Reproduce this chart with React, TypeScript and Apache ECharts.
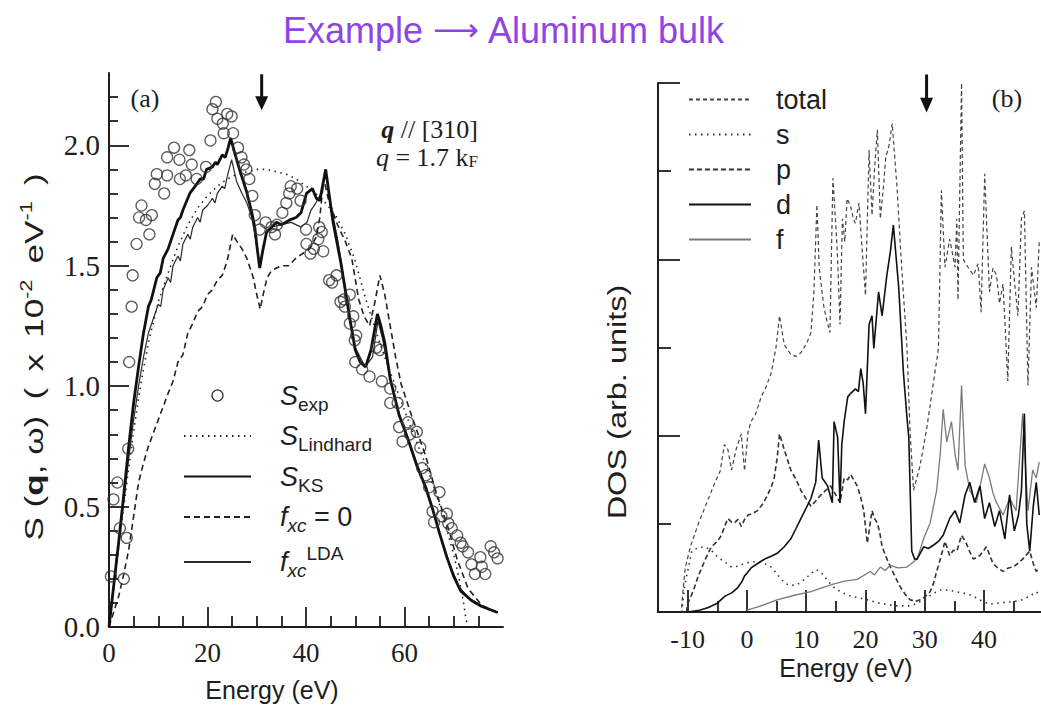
import React, { useEffect, useRef } from 'react';
import * as echarts from 'echarts';

const SANS = '"Liberation Sans", Arial, sans-serif';
const SERIF = '"Liberation Serif", "Times New Roman", serif';
const INK = '#1e1e1e';
const TITLE_COLOR = '#8f45e6';

// ---------- panel (a): S(q, ω) of Al, q // [310], q = 1.7 kF ----------
const ticksXA = [0, 20, 40, 60];
const minorXA = [5, 10, 15, 25, 30, 35, 45, 50, 55, 65, 70, 75];
const ticksYA = [0, 0.5, 1, 1.5, 2];
const minorYA = [0.1, 0.2, 0.3, 0.4, 0.6, 0.7, 0.8, 0.9, 1.1, 1.2, 1.3, 1.4, 1.6, 1.7, 1.8, 1.9, 2.1, 2.2];

const sExp: [number, number][] = [
  [0.4, 0.21], [0.9, 0.53], [1.7, 0.6], [2.2, 0.41], [3.0, 0.2], [3.6, 0.37], [3.9, 0.74], [4.1, 1.1],
  [4.6, 1.33], [4.8, 1.46], [5.6, 1.59], [6.1, 1.7], [6.6, 1.75], [7.5, 1.69], [8.2, 1.63], [8.7, 1.71],
  [9.3, 1.84], [9.7, 1.88], [11.2, 1.8], [11.8, 1.875], [11.8, 1.95], [13.2, 1.99], [14.3, 1.94], [14.4, 1.86],
  [15.6, 1.875], [16.3, 1.98], [16.8, 1.92], [17.8, 1.86], [19.7, 1.91], [20.6, 2.02], [21.0, 2.15], [21.7, 2.18],
  [22.0, 2.11], [23.1, 2.09], [23.3, 2.05], [24.0, 2.13], [24.9, 2.12], [25.2, 2.05], [26.2, 1.99], [26.9, 1.95],
  [27.4, 1.92], [27.9, 1.9], [28.5, 1.86], [29.1, 1.79], [29.6, 1.71], [30.6, 1.65], [31.8, 1.68], [33.0, 1.66],
  [33.7, 1.63], [34.1, 1.67], [35.2, 1.72], [36.0, 1.76], [36.6, 1.8], [36.9, 1.83], [38.2, 1.82], [38.9, 1.77],
  [40.0, 1.65], [40.1, 1.59], [40.9, 1.55], [41.6, 1.57], [42.5, 1.61], [42.7, 1.66], [43.2, 1.64], [43.5, 1.56],
  [44.7, 1.44], [45.3, 1.43], [46.2, 1.46], [47.0, 1.35], [47.7, 1.36], [47.9, 1.33], [48.9, 1.38], [48.9, 1.26],
  [49.6, 1.29], [49.9, 1.19], [50.2, 1.21], [50.0, 1.1], [51.4, 1.07], [52.9, 1.04], [54.3, 1.16], [55.0, 1.15],
  [55.4, 1.02], [57.1, 0.99], [57.1, 0.93], [58.6, 0.93], [58.9, 0.83], [59.6, 0.77], [60.7, 0.85], [61.1, 0.8],
  [62.5, 0.81], [63.2, 0.745], [63.6, 0.66], [64.3, 0.63], [65.0, 0.58], [65.7, 0.48], [66.0, 0.435], [67.1, 0.56],
  [67.5, 0.46], [68.6, 0.47], [68.9, 0.43], [69.6, 0.41], [70.7, 0.38], [71.4, 0.35], [71.8, 0.335], [72.9, 0.31],
  [73.6, 0.26], [74.3, 0.22], [75.4, 0.29], [75.7, 0.25], [76.4, 0.22], [77.5, 0.335], [78.2, 0.31], [78.9, 0.285],
];

const sLindhard: [number, number][] = [
  [0, 0], [1, 0.17], [2, 0.34], [3, 0.5], [4, 0.66], [5, 0.81], [6, 0.95], [7, 1.07], [8, 1.18], [10, 1.35],
  [12, 1.47], [14, 1.58], [16, 1.67], [18, 1.74], [20, 1.79], [22, 1.83], [24, 1.86], [26, 1.88], [28, 1.89],
  [30, 1.9], [32, 1.9], [34, 1.89], [36, 1.88], [38, 1.86], [40, 1.83], [42, 1.8], [44, 1.76], [46, 1.71],
  [48, 1.63], [50, 1.52], [52, 1.37], [54, 1.24], [56, 1.12], [58, 1.01], [60, 0.9], [62, 0.79], [64, 0.69],
  [66, 0.58], [68, 0.45], [70, 0.3], [71, 0.21], [72, 0.1], [72.5, 0.03], [73, 0],
];

const sKS: [number, number][] = [
  [0, 0], [1, 0.18], [2, 0.36], [3, 0.55], [4, 0.75], [5, 0.93], [6, 1.08], [7, 1.22], [8, 1.33], [8.6, 1.36],
  [9.7, 1.45], [10.4, 1.47], [11, 1.53], [12, 1.57], [12.5, 1.6], [13, 1.63], [14, 1.69], [14.5, 1.7], [15, 1.73],
  [16.4, 1.8], [17.5, 1.83], [18.5, 1.86], [19.2, 1.86], [19.8, 1.9], [21, 1.91], [21.6, 1.93], [22, 1.92],
  [23, 1.96], [23.6, 1.95], [24.2, 1.99], [24.7, 2.03], [25.5, 1.97], [26.5, 1.9], [27.9, 1.81], [29, 1.72],
  [29.6, 1.66], [30.1, 1.57], [30.6, 1.49], [31.2, 1.56], [32, 1.64], [33, 1.66], [34, 1.68], [35, 1.67],
  [36.7, 1.69], [38, 1.7], [39, 1.72], [40.1, 1.8], [41.3, 1.82], [42.1, 1.78], [42.8, 1.77], [44.0, 1.9],
  [44.8, 1.78], [45.5, 1.68], [47.1, 1.51], [48.9, 1.28], [50, 1.15], [51, 1.1], [52.1, 1.08], [53.2, 1.15],
  [54.5, 1.3], [55.2, 1.25], [56, 1.18], [57.1, 1.03], [58.9, 0.88], [60.7, 0.78], [62.5, 0.67], [64.3, 0.58],
  [65.7, 0.49], [67.1, 0.39], [68.6, 0.29], [70, 0.21], [71.4, 0.15], [73.6, 0.11], [75.7, 0.085], [78.9, 0.06],
];

const fxcZero: [number, number][] = [
  [0, 0], [2, 0.13], [3, 0.22], [4, 0.32], [5, 0.46], [6, 0.6], [7, 0.68], [8, 0.75], [10, 0.86], [12, 0.97],
  [13, 1.02], [14, 1.1], [15, 1.13], [16, 1.22], [17, 1.26], [18, 1.31], [19, 1.33], [20, 1.38], [21, 1.4],
  [22, 1.44], [23, 1.46], [24, 1.52], [25.1, 1.63], [26, 1.6], [27, 1.57], [28, 1.53], [29.3, 1.45], [30, 1.38],
  [30.7, 1.32], [31.3, 1.38], [32.1, 1.45], [33, 1.48], [35, 1.5], [36.5, 1.5], [37.9, 1.53], [40.7, 1.57],
  [42.1, 1.62], [42.8, 1.7], [43.6, 1.86], [44.5, 1.78], [45.5, 1.72], [46.4, 1.67], [48, 1.6], [49.3, 1.53],
  [50.7, 1.36], [51.8, 1.29], [52.9, 1.25], [54, 1.35], [55, 1.46], [56, 1.38], [57.1, 1.25], [58.2, 1.12],
  [59.3, 1.01], [61.4, 0.88], [64.3, 0.71], [66.4, 0.56], [68.6, 0.43], [70.7, 0.28], [72.9, 0.16], [75.7, 0.09],
  [78.9, 0.06],
];

const fxcLDA: [number, number][] = [
  [0, 0], [1, 0.17], [2, 0.34], [3, 0.52], [4, 0.7], [5, 0.86], [6, 1.0], [7, 1.12], [8, 1.22], [9, 1.28],
  [10, 1.34], [10.5, 1.33], [11, 1.4], [12, 1.45], [12.5, 1.43], [13, 1.5], [14, 1.54], [14.5, 1.52], [15, 1.59],
  [16, 1.63], [16.5, 1.61], [17, 1.66], [18, 1.7], [18.5, 1.68], [19, 1.73], [20, 1.75], [21, 1.78], [21.5, 1.76],
  [22, 1.8], [23, 1.83], [23.5, 1.82], [24, 1.87], [24.9, 1.94], [25.9, 1.85], [27, 1.8], [28, 1.76], [29, 1.7],
  [30, 1.58], [30.6, 1.5], [31.3, 1.58], [32, 1.64], [33, 1.66], [35, 1.67], [37, 1.68], [39, 1.66], [40.2, 1.68],
  [41, 1.73], [42, 1.76], [43, 1.8], [44, 1.89], [45, 1.76], [46.5, 1.6], [48, 1.4], [50, 1.16], [52, 1.08],
  [53.5, 1.12], [54.6, 1.27], [55.5, 1.2], [57, 1.04], [59, 0.88], [61, 0.77], [63, 0.65], [65, 0.53], [67, 0.4],
  [69, 0.27], [71, 0.17], [73, 0.12], [76, 0.085], [79, 0.06],
];

// ---------- panel (b): projected DOS ----------
const ticksXB = [-10, 0, 10, 20, 30, 40];
const minorXB = [-5, 5, 15, 25, 35, 45];
const majorYB = [2, 4, 6];
const minorYB = [1, 3, 5];

const dosTotal: [number, number][] = [
  [-11, 0.05], [-10.8, 0.23], [-10.4, 0.5], [-9.5, 0.75], [-8.2, 1.0], [-7, 1.2], [-5.4, 1.47], [-4.5, 1.6],
  [-3.8, 1.9], [-3.2, 1.84], [-2.6, 1.61], [-1.8, 1.85], [-0.95, 2.02], [-0.4, 1.6], [0.2, 2.05], [0.7, 2.16],
  [1.5, 2.25], [2.4, 2.44], [3.2, 2.55], [4.1, 2.71], [4.9, 3.0], [5.5, 3.36], [6.3, 3.03], [7.4, 2.92],
  [8.3, 2.9], [9.1, 2.94], [10.1, 3.05], [10.8, 3.17], [11.3, 3.63], [11.8, 4.62], [12.2, 3.9], [12.5, 3.72],
  [13.0, 3.45], [13.5, 3.3], [14.0, 3.17], [14.5, 4.92], [15, 4.37], [15.3, 4.0], [15.7, 3.26], [16.1, 4.46],
  [16.5, 4.2], [16.9, 4.69], [17.5, 4.6], [18.0, 4.45], [18.3, 4.41], [18.9, 4.64], [19.4, 4.14], [20, 3.59],
  [20.6, 5.24], [21.1, 4.5], [21.5, 5.0], [22, 5.47], [22.5, 4.46], [23.0, 4.8], [23.4, 5.15], [24.0, 5.3],
  [24.5, 5.54], [25.3, 4.83], [26.1, 3.91], [27, 2.99], [27.5, 2.07], [28.1, 1.38], [29.2, 1.66], [30.3, 2.07],
  [31.5, 2.62], [32.3, 2.99], [32.8, 4.78], [33.4, 3.91], [34.2, 4.23], [35.1, 3.91], [35.4, 4.46], [35.6, 3.54],
  [36.2, 6.0], [36.5, 4.0], [37.3, 3.91], [38.2, 3.82], [39, 3.95], [39.5, 3.4], [40.1, 4.97], [40.9, 3.63],
  [41.5, 3.9], [42.1, 3.82], [42.6, 3.5], [43.2, 3.72], [44, 2.62], [44.6, 4.14], [45.2, 3.7], [45.7, 3.36],
  [46.3, 4.46], [46.8, 4.55], [47.4, 2.57], [48, 3.91], [48.8, 3.45], [49.3, 4.2],
];

const dosS: [number, number][] = [
  [-11, 0.0], [-10.5, 0.3], [-9.3, 0.69], [-8.2, 0.73], [-7.1, 0.74], [-6, 0.7], [-4.9, 0.62], [-3.8, 0.57],
  [-2.6, 0.51], [-1.5, 0.52], [-0.4, 0.55], [0.7, 0.57], [1.8, 0.57], [3, 0.55], [4.1, 0.51], [5, 0.44],
  [5.8, 0.37], [6.6, 0.32], [7.4, 0.3], [8.5, 0.31], [9.7, 0.37], [10.7, 0.43], [11.6, 0.48], [12.3, 0.46],
  [13, 0.41], [13.8, 0.34], [14.7, 0.28], [16, 0.22], [17.5, 0.18], [19, 0.16], [20.3, 0.14], [21.7, 0.11],
  [23.1, 0.09], [25.3, 0.07], [27.5, 0.07], [28.7, 0.1], [29.8, 0.14], [31.2, 0.2], [32.6, 0.25], [34, 0.25],
  [35.4, 0.23], [36.8, 0.21], [38.2, 0.18], [39.5, 0.13], [40.9, 0.09], [42.3, 0.1], [43.7, 0.11], [45.1, 0.12],
  [46.5, 0.14], [47.7, 0.18], [48.8, 0.23], [49.3, 0.2],
];

const dosP: [number, number][] = [
  [-10.2, 0], [-10, 0.09], [-9, 0.25], [-8.2, 0.41], [-7, 0.6], [-6, 0.74], [-5, 0.8], [-4.3, 0.87], [-3.6, 1.0],
  [-3.2, 1.06], [-2.6, 1.02], [-2.1, 1.01], [-1.5, 1.05], [-0.95, 0.97], [-0.4, 1.05], [0.2, 1.1], [1, 1.12],
  [1.8, 1.15], [2.7, 1.23], [3.5, 1.33], [4.1, 1.42], [4.6, 1.52], [5.1, 1.75], [5.5, 2.02], [6.3, 1.84],
  [7.4, 1.61], [8.3, 1.5], [9.1, 1.38], [10, 1.28], [10.8, 1.2], [11.6, 1.26], [12.5, 1.33], [13.3, 1.38],
  [14.1, 1.43], [14.8, 1.35], [15.7, 1.24], [16.4, 1.52], [17, 1.5], [17.5, 1.56], [18, 1.5], [18.6, 1.43],
  [19.2, 1.3], [19.7, 1.15], [20.3, 0.78], [21.1, 1.15], [21.6, 1.05], [22, 1.01], [22.4, 0.9], [22.8, 0.74],
  [23.5, 0.62], [24.2, 0.51], [25, 0.4], [25.9, 0.28], [26.7, 0.2], [27.5, 0.14], [28.4, 0.12], [29.2, 0.14],
  [30, 0.17], [30.9, 0.23], [31.5, 0.33], [32, 0.46], [32.7, 0.62], [33.4, 0.8], [34.2, 0.64], [34.8, 0.7],
  [35.4, 0.69], [36.2, 0.87], [37, 0.78], [37.6, 0.68], [38.2, 0.6], [39.3, 0.64], [40.4, 0.74], [41.5, 0.55],
  [42.3, 0.5], [43.2, 0.46], [44.1, 0.5], [44.9, 0.51], [45.7, 0.55], [46.5, 0.6], [47.7, 0.69], [48.3, 0.55],
  [48.8, 0.46], [49.3, 0.5],
];

const dosD: [number, number][] = [
  [-10, 0], [-8, 0.02], [-6.5, 0.05], [-5, 0.1], [-3.7, 0.18], [-2.5, 0.22], [-1.5, 0.28], [-0.8, 0.35],
  [-0.4, 0.41], [0, 0.44], [0.7, 0.5], [1.8, 0.55], [3, 0.6], [4, 0.63], [5.2, 0.67], [6.3, 0.74], [7.4, 0.83],
  [8.3, 0.95], [9.1, 1.06], [10, 1.18], [10.8, 1.29], [11.6, 1.47], [12.1, 1.95], [12.7, 1.52], [13.6, 1.43],
  [14.4, 1.24], [14.7, 2.16], [15.3, 1.98], [15.7, 1.24], [16.0, 1.9], [16.4, 2.16], [17, 2.44], [17.5, 2.48],
  [18.3, 2.53], [18.8, 2.5], [19.2, 2.76], [19.6, 2.6], [20, 2.25], [20.6, 3.26], [21.1, 3.36], [21.4, 2.99],
  [22.2, 3.63], [22.8, 3.36], [23.6, 3.82], [24.2, 4.09], [24.7, 4.39], [25.6, 3.68], [26.4, 2.71], [27.0, 2.2],
  [27.3, 1.98], [27.8, 0.69], [28.3, 0.6], [28.7, 0.6], [29.8, 0.74], [30.6, 0.72], [31.5, 0.76], [32.3, 0.8],
  [33.1, 0.87], [34.2, 1.06], [35.1, 1.15], [35.9, 1.01], [36.8, 1.33], [37.6, 1.47], [38.4, 1.24], [39.3, 1.43],
  [40.1, 1.06], [40.9, 1.24], [41.8, 0.97], [42.6, 1.15], [43.5, 0.83], [44.3, 1.33], [45.1, 0.92], [45.8, 1.1],
  [46.3, 1.38], [46.8, 2.25], [47.2, 1.0], [47.7, 0.69], [48.3, 1.2], [48.8, 1.47], [49.3, 1.1],
];

const dosF: [number, number][] = [
  [0, 0.02], [2, 0.06], [5.2, 0.14], [8, 0.19], [10.8, 0.23], [12.5, 0.27], [14.7, 0.32], [16.5, 0.35],
  [18.6, 0.37], [20.8, 0.46], [21.5, 0.42], [22.5, 0.51], [23.3, 0.47], [24.2, 0.53], [25.5, 0.5], [27, 0.51],
  [28.7, 0.6], [29.8, 0.83], [30.9, 1.01], [32, 1.38], [32.6, 1.79], [33.1, 2.3], [33.7, 1.93], [34.5, 2.16],
  [35.1, 1.79], [35.6, 1.61], [36.2, 2.57], [36.8, 1.66], [37.6, 1.38], [38.7, 1.24], [39.4, 1.45], [40.1, 1.68],
  [40.9, 1.52], [41.5, 1.35], [42.1, 1.24], [43.2, 1.1], [43.8, 1.2], [44.3, 1.29], [45.4, 1.15], [46.5, 2.25],
  [47.4, 1.15], [48.2, 1.61], [48.8, 1.52], [49.3, 1.7],
];

// energies marked by the down arrows
const arrowA: [number, number] = [31, 2.22];
const arrowB: [number, number] = [30.3, 5.88];

const ARROW = 'path://M5,0 L8,0 L8,22 L13,22 L6.5,36 L0,22 L5,22 Z';

const legendRichA = {
  sp: { width: 24, lineHeight: 36 },
  S: { fontFamily: SANS, fontStyle: 'italic', fontSize: 27, lineHeight: 27, color: INK },
  t: { fontFamily: SANS, fontSize: 27, lineHeight: 27, color: INK },
  sub: { fontFamily: SANS, fontSize: 19, lineHeight: 19, verticalAlign: 'bottom', color: INK },
  subi: { fontFamily: SANS, fontStyle: 'italic', fontSize: 19, lineHeight: 19, verticalAlign: 'bottom', color: INK },
  sup: { fontFamily: SANS, fontSize: 19, lineHeight: 19, verticalAlign: 'top', color: INK },
};

const legendTextA: Record<string, string> = {
  'S exp': '{sp| }{S|S}{sub|exp}',
  'S Lindhard': '{sp| }{S|S}{sub|Lindhard}',
  'S KS': '{sp| }{S|S}{sub|KS}',
  'fxc 0': '{sp| }{S|f}{subi|xc}{t| = 0}',
  'fxc LDA': '{sp| }{S|f}{subi|xc}{sup|LDA}',
};

// legend swatches show the line only
const hiddenSymbol = { color: 'rgba(0,0,0,0)', opacity: 0, borderWidth: 0 };

function lineSeries(name: string, data: [number, number][], axis: number, lineStyle: any, z = 2) {
  return {
    name,
    type: 'line',
    xAxisIndex: axis,
    yAxisIndex: axis,
    data,
    symbol: 'none',
    showSymbol: false,
    lineStyle,
    itemStyle: { color: lineStyle.color },
    z,
  };
}

function centered(extra: any) {
  return { align: 'center', verticalAlign: 'middle', textAlign: 'center', textVerticalAlign: 'middle', ...extra };
}

function buildOption() {
  const axisLine = { onZero: false, lineStyle: { color: INK, width: 2 } };
  const tickStyle = { color: INK, width: 1.8 };
  const serifLabel = { fontFamily: SERIF, fontSize: 27, color: INK };

  return {
    animation: false,
    backgroundColor: '#ffffff',
    grid: [
      { left: 109, top: 73, width: 394, height: 554, outerBoundsMode: 'none' },
      { left: 658, top: 83, width: 383, height: 529, outerBoundsMode: 'none' },
    ],
    xAxis: [
      {
        gridIndex: 0, type: 'value', min: 0, max: 80, position: 'bottom',
        axisLine, splitLine: { show: false },
        axisTick: { inside: true, length: 20, lineStyle: tickStyle, customValues: ticksXA },
        axisLabel: { ...serifLabel, margin: 12, customValues: ticksXA, formatter: (v: number) => String(v) },
      },
      {
        gridIndex: 0, type: 'value', min: 0, max: 80, position: 'bottom',
        axisLine: { show: false, onZero: false }, splitLine: { show: false }, axisLabel: { show: false },
        axisTick: { inside: true, length: 11, lineStyle: tickStyle, customValues: minorXA },
      },
      {
        gridIndex: 1, type: 'value', min: -15, max: 49.6, position: 'bottom',
        axisLine, splitLine: { show: false },
        axisTick: { inside: true, length: 22, lineStyle: tickStyle, customValues: ticksXB },
        axisLabel: { ...serifLabel, fontSize: 26, margin: 14, customValues: ticksXB, formatter: (v: number) => String(v) },
      },
      {
        gridIndex: 1, type: 'value', min: -15, max: 49.6, position: 'bottom',
        axisLine: { show: false, onZero: false }, splitLine: { show: false }, axisLabel: { show: false },
        axisTick: { inside: true, length: 11, lineStyle: tickStyle, customValues: minorXB },
      },
    ],
    yAxis: [
      {
        gridIndex: 0, type: 'value', min: 0, max: 2.3, position: 'left',
        axisLine, splitLine: { show: false },
        axisTick: { inside: true, length: 20, lineStyle: tickStyle, customValues: ticksYA },
        axisLabel: { ...serifLabel, fontSize: 29, margin: 9, customValues: ticksYA, formatter: (v: number) => v.toFixed(1) },
      },
      {
        gridIndex: 0, type: 'value', min: 0, max: 2.3, position: 'left',
        axisLine: { show: false, onZero: false }, splitLine: { show: false }, axisLabel: { show: false },
        axisTick: { inside: true, length: 9, lineStyle: tickStyle, customValues: minorYA },
      },
      {
        gridIndex: 1, type: 'value', min: 0, max: 6, position: 'left',
        axisLine, splitLine: { show: false }, axisLabel: { show: false },
        axisTick: { inside: true, length: 22, lineStyle: tickStyle, customValues: majorYB },
      },
      {
        gridIndex: 1, type: 'value', min: 0, max: 6, position: 'left',
        axisLine: { show: false, onZero: false }, splitLine: { show: false }, axisLabel: { show: false },
        axisTick: { inside: true, length: 13, lineStyle: tickStyle, customValues: minorYB },
      },
    ],
    legend: [
      {
        orient: 'vertical', left: 183, top: 382, padding: 0, itemWidth: 67, itemHeight: 11, itemGap: 9,
        selectedMode: false,
        itemStyle: hiddenSymbol,
        data: [
          { name: 'S exp', icon: 'circle', itemStyle: { color: 'rgba(0,0,0,0)', opacity: 1, borderColor: '#333', borderWidth: 1.3 } },
          'S Lindhard', 'S KS', 'fxc 0', 'fxc LDA',
        ],
        formatter: (name: string) => legendTextA[name] || name,
        textStyle: { rich: legendRichA },
      },
      {
        orient: 'vertical', left: 688, top: 86, padding: 0, itemWidth: 62, itemHeight: 10, itemGap: 8,
        selectedMode: false,
        itemStyle: hiddenSymbol,
        data: ['total', 's', 'p', 'd', 'f'],
        formatter: (name: string) => '{sp| }{t|' + name + '}',
        textStyle: {
          rich: {
            sp: { width: 20, lineHeight: 29 },
            t: { fontFamily: SANS, fontSize: 27, lineHeight: 29, color: INK },
          },
        },
      },
    ],
    series: [
      lineSeries('S Lindhard', sLindhard, 0, { color: '#222', width: 1.6, type: [1.5, 4.5] }),
      lineSeries('fxc 0', fxcZero, 0, { color: '#222', width: 1.6, type: [6, 4] }),
      lineSeries('fxc LDA', fxcLDA, 0, { color: '#2a2a2a', width: 1.2 }),
      {
        ...lineSeries('S KS', sKS, 0, { color: '#111', width: 2.8 }, 3),
        markPoint: {
          symbol: ARROW, symbolSize: [13, 36], silent: true,
          itemStyle: { color: '#111', opacity: 1 }, label: { show: false },
          data: [{ coord: arrowA }],
        },
      },
      {
        name: 'S exp', type: 'scatter', xAxisIndex: 0, yAxisIndex: 0, data: sExp,
        symbol: 'circle', symbolSize: 11, z: 4,
        itemStyle: { color: 'rgba(0,0,0,0)', borderColor: '#333', borderWidth: 1.3 },
      },
      lineSeries('total', dosTotal, 2, { color: '#444', width: 1.2, type: [4, 3] }),
      lineSeries('s', dosS, 2, { color: '#333', width: 1.6, type: [1.5, 4.5] }),
      lineSeries('p', dosP, 2, { color: '#333', width: 1.6, type: [5, 3] }),
      {
        ...lineSeries('d', dosD, 2, { color: '#111', width: 1.6 }, 3),
        markPoint: {
          symbol: ARROW, symbolSize: [13, 38], silent: true,
          itemStyle: { color: '#111', opacity: 1 }, label: { show: false },
          data: [{ coord: arrowB }],
        },
      },
      lineSeries('f', dosF, 2, { color: '#7a7a7a', width: 1.3 }),
    ],
    graphic: [
      {
        type: 'text', x: 504, y: 30, silent: true,
        style: centered({
          text: '{t|Example }{a|\u27f6}{t| Aluminum bulk}',
          rich: {
            t: { fontFamily: SANS, fontSize: 36, color: TITLE_COLOR, fill: TITLE_COLOR },
            a: { fontFamily: '"DejaVu Sans", sans-serif', fontSize: 32, color: TITLE_COLOR, fill: TITLE_COLOR },
          },
        }),
      },
      {
        type: 'text', x: 145, y: 98, silent: true,
        style: centered({ text: '(a)', fill: INK, font: '26px ' + SERIF }),
      },
      {
        type: 'text', x: 1007, y: 98, silent: true,
        style: centered({ text: '(b)', fill: INK, font: '26px ' + SERIF }),
      },
      {
        type: 'text', x: 478, y: 129, silent: true,
        style: {
          text: '{qb|q}{t| // [310]}', align: 'right', verticalAlign: 'middle', textAlign: 'right', textVerticalAlign: 'middle',
          rich: {
            qb: { fontFamily: SERIF, fontStyle: 'italic', fontWeight: 'bold', fontSize: 26, fill: INK, color: INK },
            t: { fontFamily: SERIF, fontSize: 26, fill: INK, color: INK },
          },
        },
      },
      {
        type: 'text', x: 478, y: 157, silent: true,
        style: {
          text: '{qi|q}{t| = 1.7 k}{sub|F}', align: 'right', verticalAlign: 'middle', textAlign: 'right', textVerticalAlign: 'middle',
          rich: {
            qi: { fontFamily: SERIF, fontStyle: 'italic', fontSize: 26, lineHeight: 26, fill: INK, color: INK },
            t: { fontFamily: SERIF, fontSize: 26, lineHeight: 26, fill: INK, color: INK },
            sub: { fontFamily: SERIF, fontSize: 17, lineHeight: 17, verticalAlign: 'bottom', fill: INK, color: INK },
          },
        },
      },
      {
        type: 'text', x: 34, y: 357, rotation: Math.PI / 2, scaleX: 1.35, silent: true,
        style: centered({
          text: '{t|S (}{b|q}{t|, \u03c9)}{g| }{t|(}{g| }{t|x}{g| }{t|10}{sup|-2}{g| }{t|eV}{sup|-1}{g| }{t|)}',
          rich: {
            t: { fontFamily: SANS, fontSize: 26, lineHeight: 30, fill: INK, color: INK },
            b: { fontFamily: SANS, fontWeight: 'bold', fontSize: 26, lineHeight: 30, fill: INK, color: INK },
            sup: { fontFamily: SANS, fontSize: 16, lineHeight: 16, verticalAlign: 'top', fill: INK, color: INK },
            g: { width: 12, lineHeight: 30 },
          },
        }),
      },
      {
        type: 'text', x: 617, y: 402, rotation: Math.PI / 2, scaleX: 1.3, silent: true,
        style: centered({ text: 'DOS (arb. units)', fill: INK, font: '25px ' + SANS }),
      },
      {
        type: 'text', x: 272, y: 690, silent: true,
        style: centered({ text: 'Energy (eV)', fill: INK, font: '25px ' + SANS }),
      },
      {
        type: 'text', x: 846, y: 668, silent: true,
        style: centered({ text: 'Energy (eV)', fill: INK, font: '25px ' + SANS }),
      },
    ],
  };
}

export default function App() {
  const ref = useRef<HTMLDivElement>(null);
  useEffect(() => {
    if (!ref.current) return;
    const chart = echarts.init(ref.current, null, { renderer: 'svg' });
    chart.setOption(buildOption() as any);
    return () => chart.dispose();
  }, []);
  return (
    <div
      ref={ref}
      style={{ position: 'absolute', left: 0, top: 0, width: 1041, height: 707, background: '#fff' }}
    />
  );
}
